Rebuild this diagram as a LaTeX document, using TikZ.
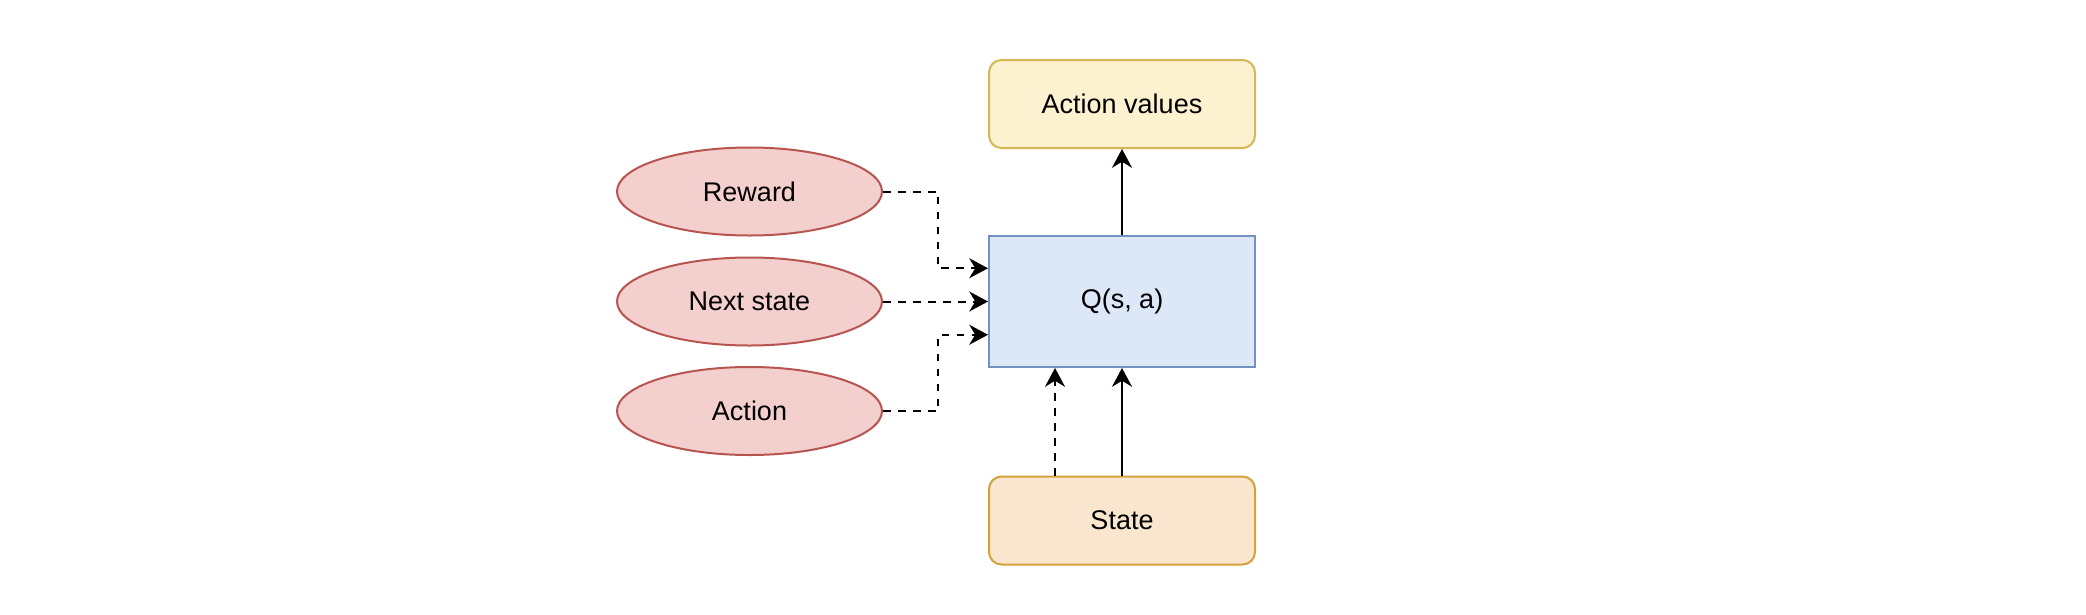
\documentclass[tikz,border=0pt]{standalone}
\usepackage{fontspec}
\setmainfont{Liberation Sans}
\usepackage{tikz}
\usetikzlibrary{shapes.geometric,arrows.meta,calc}

\definecolor{redfill}{HTML}{F3D0CD}
\definecolor{redline}{HTML}{B85450}
\definecolor{bluefill}{HTML}{DCE7F8}
\definecolor{blueline}{HTML}{7390C0}
\definecolor{yellowfill}{HTML}{FDF2D0}
\definecolor{yellowline}{HTML}{D6B656}
\definecolor{orangefill}{HTML}{FAE6CF}
\definecolor{orangeline}{HTML}{D5A13A}

\begin{document}
\begin{tikzpicture}[x=0.4pt,y=-0.4pt,
  every node/.style={font=\fontsize{10.8}{12}\selectfont, inner sep=0pt},
  input/.style={ellipse, draw=redline, fill=redfill, line width=0.8pt,
    minimum width=106pt, minimum height=35.2pt},
  rbox/.style={rectangle, rounded corners=5pt, line width=0.8pt,
    minimum width=106.4pt, minimum height=35.2pt},
  link/.style={line width=0.8pt, -{Stealth[length=7.5pt,width=8pt,inset=2.4pt]}}]

\useasboundingbox (0,0) rectangle (2086,614);

% nodes
\node [rbox, draw=yellowline, fill=yellowfill] (values) at (1122,104) {Action values};
\node [rectangle, draw=blueline, fill=bluefill, line width=0.8pt,
  minimum width=106.4pt, minimum height=52.4pt] (qsa) at (1122,301.5) {Q(s, a)};
\node [rbox, draw=orangeline, fill=orangefill] (state) at (1122,520.5) {State};

\node [input] (reward) at (749.5,191.5) {Reward};
\node [input] (nextstate) at (749.5,301.5) {Next state};
\node [input] (action) at (749.5,411) {Action};

% solid links
\draw [link] (qsa) -- (values);
\draw [link] (state) -- (qsa);

% dashed links into Q
\draw [link, dashed] (reward.east) -- ++(55,0)
  |- ($(qsa.north west)!0.25!(qsa.south west)$);
\draw [link, dashed] (nextstate.east) -- (nextstate.east -| qsa.west);
\draw [link, dashed] (action.east) -- ++(55,0)
  |- ($(qsa.north west)!0.75!(qsa.south west)$);
\draw [link, dashed] ($(state.north west)!0.25!(state.north east)$)
  -- ($(qsa.south west)!0.25!(qsa.south east)$);

\end{tikzpicture}
\end{document}
